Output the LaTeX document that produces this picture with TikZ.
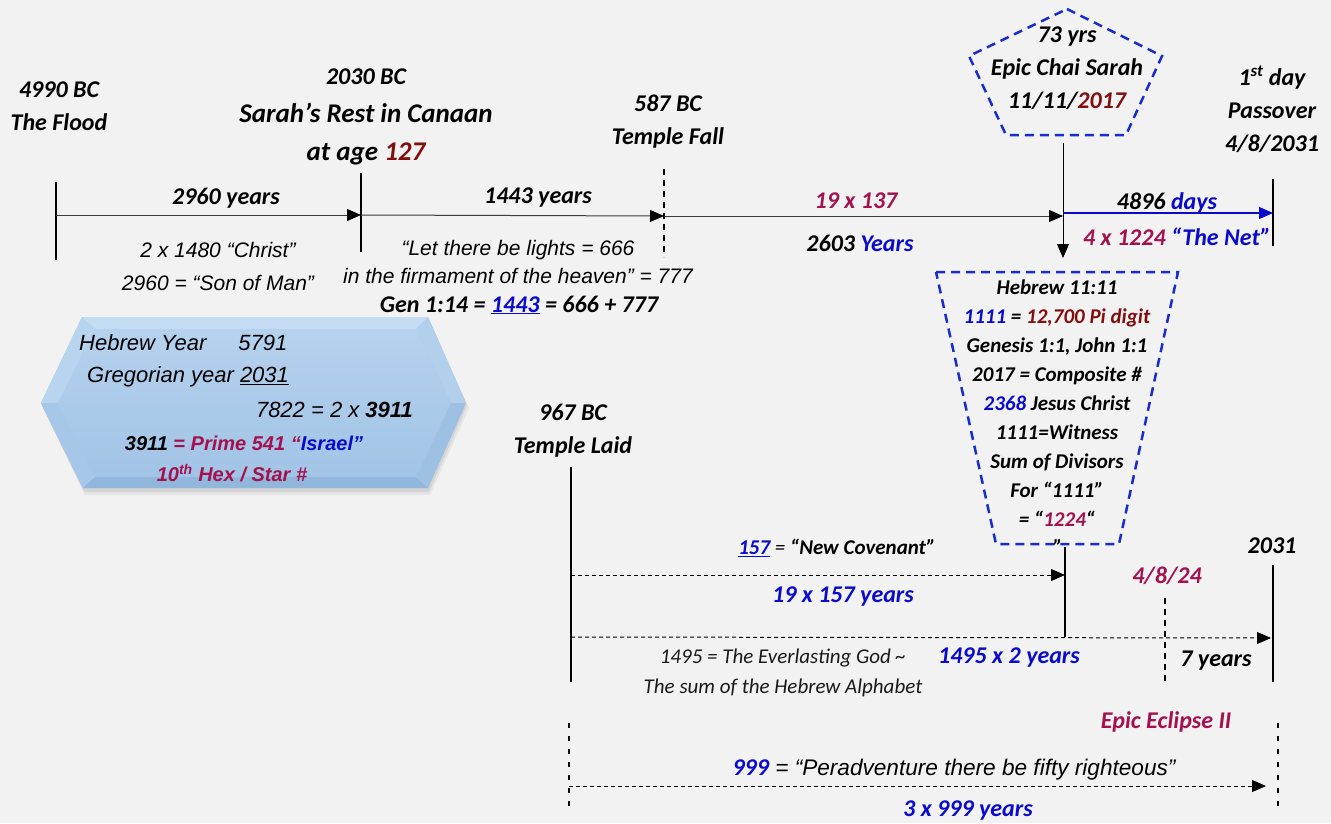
\documentclass[tikz,border=0pt]{standalone}
\usepackage{fontspec}
\setmainfont{Carlito}
\newfontfamily\arialfont{Liberation Sans}
\usetikzlibrary{positioning,arrows.meta}
\definecolor{paper}{RGB}{242,242,242}
\definecolor{darkred}{RGB}{130,14,14}
\definecolor{crimson}{RGB}{163,18,79}
\definecolor{ink}{RGB}{10,10,204}
\definecolor{frame}{RGB}{25,45,205}
\definecolor{rule}{RGB}{60,60,60}
\definecolor{hexface}{RGB}{166,199,232}
\definecolor{hexlight}{RGB}{196,220,243}
\definecolor{hexdark}{RGB}{146,183,220}
\tikzset{
    lbl/.style={inner sep=0pt, align=center, font=\fontsize{24}{33}\selectfont\bfseries\itshape},
    biglbl/.style={inner sep=0pt, align=center, font=\fontsize{27}{38}\selectfont\bfseries\itshape},
    arialtxt/.style={inner sep=0pt, align=center, font=\arialfont\fontsize{21}{28}\selectfont\itshape},
    boxtxt/.style={inner sep=0pt, align=center, font=\fontsize{21}{29}\selectfont\bfseries\itshape},
    lighttxt/.style={inner sep=0pt, align=center, font=\fontsize{21}{30}\selectfont\itshape},
    tickline/.style={line width=2pt},
    tickdash/.style={line width=1.5pt, dash pattern=on 6pt off 5pt},
    arr/.style={line width=1pt, draw=rule, -{Triangle[length=14pt,width=12pt,color=black]}},
    darr/.style={arr, draw=black, dash pattern=on 4pt off 3pt},
    bluearr/.style={line width=1.3pt, draw=ink, -{Triangle[length=14pt,width=12pt]}},
    frameline/.style={draw=frame, line width=2.5pt, dash pattern=on 9pt off 6pt},
}
\begin{document}
\begin{tikzpicture}[x=1pt,y=-1pt]
    \path[use as bounding box, fill=paper] (0,0) rectangle (1331,823);

    \coordinate (flood) at (56,215);
    \coordinate (sarah) at (361,215);
    \coordinate (fall) at (664,216);
    \coordinate (chai) at (1063,216);
    \coordinate (chaiB) at (1063,213);
    \coordinate (pass) at (1273,213);
    \coordinate (penta) at (1063,143);
    \coordinate (trap) at (1063,258);

    \draw[tickline] (56,182) -- (56,260);
    \draw[tickline] (361,173) -- (361,252);
    \draw[tickdash] (664,169) -- (664,257);
    \draw[tickline] (1273,179) -- (1273,246);
    \draw[arr] (flood) -- (sarah);
    \draw[arr] (sarah) -- (fall);
    \draw[arr] (fall) -- (chai);
    \draw[bluearr] (chaiB) -- (pass);
    \draw[arr, draw=black] (penta) -- (trap);

    \draw[frameline] (1067,9) -- (1162,56) -- (1126,135) -- (1006,135) -- (969,56) -- cycle;
    \draw[frameline] (936,272) -- (1178,272) -- (1119,544) -- (996,544) -- cycle;

    \node[lbl] (floodtxt) at (59,106) {4990 BC\\The Flood};
    \node[biglbl] (sarahtxt) at (366,117) {{\fontsize{24}{29}\selectfont 2030 BC}\\Sarah’s Rest in Canaan\\at age {\color{darkred}127}};
    \node[lbl] (falltxt) at (668,122) {587 BC\\Temple Fall};
    \node[lbl] (chaitxt) at (1067,68) {73 yrs\\Epic Chai Sarah\\11/11/{\color{darkred}2017}};
    \node[lbl] (passtxt) at (1272,109) {1\textsuperscript{st} day\\Passover\\4/8/2031};

    \node[lbl] (y2960) at (226,198) {2960 years};
    \node[arialtxt, font=\arialfont\fontsize{21}{33}\selectfont\itshape] (christ) at (218,266) {2 x 1480 “Christ”\\2960 = “Son of Man”};
    \node[lbl] (y1443) at (538,198) {1443 years};
    \node[arialtxt] (lights) at (518,262) {“Let there be lights = 666\\in the firmament of the heaven” = 777};
    \node[lbl] (gen) at (519,305) {Gen 1:14 = {\color{ink}\underline{1443}} = 666 + 777};
    \node[lbl, text=crimson] (r137) at (856,201) {19 x 137};
    \node[lbl] (y2603) at (860,243) {2603 {\color{ink}Years}};
    \node[lbl] (days) at (1167,203) {4896 {\color{ink}days}};
    \node[lbl] (net) at (1177,237) {{\color{crimson}4 x 1224} {\color{ink}“The Net”}};

    \node[boxtxt] (heb) at (1057,403) {Hebrew 11:11\\{\color{ink}1111} = {\color{darkred}12,700 Pi digit}\\Genesis 1:1, John 1:1\\2017 = Composite \#\\{\color{ink}2368} Jesus Christ\\1111=Witness\\Sum of Divisors\\For “1111”\\= “{\color{crimson}1224}“};
    \node[boxtxt] (stray) at (1058,547) {”};

    \fill[black, opacity=0.05] (43,408) -- (84,322) -- (430,322) -- (469,408) -- (430,495) -- (85,495) -- cycle;
    \fill[black, opacity=0.07] (42,406) -- (83,320) -- (429,320) -- (467,406) -- (429,492) -- (84,492) -- cycle;
    \fill[hexface] (41,403) -- (82,317) -- (428,317) -- (466,403) -- (428,488) -- (83,488) -- cycle;
    \fill[hexlight] (82,317) -- (428,317) -- (416,329) -- (95,329) -- cycle;
    \fill[hexlight!60!hexface] (41,403) -- (82,317) -- (95,329) -- (58,403) -- cycle;
    \fill[hexface] (41,403) -- (58,403) -- (95,477) -- (83,488) -- cycle;
    \fill[hexdark] (83,488) -- (95,477) -- (416,477) -- (428,488) -- cycle;
    \fill[hexlight!40!hexface] (428,317) -- (466,403) -- (451,403) -- (416,329) -- cycle;
    \fill[hexface!60!hexdark] (466,403) -- (428,488) -- (416,477) -- (451,403) -- cycle;
    \shade[top color=hexlight!50!hexface, bottom color=hexface!80!hexdark] (58,403) -- (95,329) -- (416,329) -- (451,403) -- (416,477) -- (95,477) -- cycle;

    \node[arialtxt, font=\arialfont\fontsize{22}{28}\selectfont\itshape, anchor=west] (hyear) at (79,343) {Hebrew Year\hspace{32pt}5791};
    \node[arialtxt, font=\arialfont\fontsize{22}{28}\selectfont\itshape, anchor=west] (gyear) at (87,377) {Gregorian year \underline{2031}};
    \node[arialtxt, font=\arialfont\fontsize{22}{28}\selectfont\itshape, anchor=east] (y7822) at (413,410) {7822 = 2 x \textbf{3911}};
    \node[arialtxt, font=\arialfont\fontsize{20}{25}\selectfont\bfseries\itshape] (isr) at (244,443) {3911 {\color{crimson}= Prime 541 “}{\color{ink}Israel”}};
    \node[arialtxt, font=\arialfont\fontsize{20}{25}\selectfont\bfseries\itshape, text=crimson] (hex10) at (232,473) {10\textsuperscript{th} Hex / Star \#};

    \node[lbl] (laidtxt) at (573,431) {967 BC\\Temple Laid};
    \coordinate (laidA) at (571,575);
    \coordinate (laidB) at (571,637);
    \coordinate (laidC) at (569,786);
    \coordinate (cov) at (1065,575);
    \coordinate (end2031) at (1271,638);
    \coordinate (endC) at (1266,786);

    \draw[tickline] (571,467) -- (571,682);
    \draw[tickline] (1065,547) -- (1065,637);
    \draw[tickline] (1273,565) -- (1273,682);
    \draw[tickdash] (1165,598) -- (1165,685);
    \draw[tickdash, line width=1.3pt, dash pattern=on 5pt off 8pt] (569,723) -- (569,808);
    \draw[tickdash, line width=1.3pt, dash pattern=on 5pt off 8pt] (1278,723) -- (1278,808);
    \draw[darr] (laidA) -- (cov);
    \draw[darr] (laidB) -- (end2031);
    \draw[darr] (laidC) -- (endC);

    \node[lbl, font=\fontsize{21}{29}\selectfont\bfseries\itshape] (newcov) at (837,548) {{\color{ink}\underline{157}}{\mdseries\ = }“New Covenant”};
    \node[lbl, text=ink] (x19) at (843,597) {19 x 157 years};
    \node[lbl] (t2031) at (1272,546) {2031};
    \node[lbl, text=crimson] (d424) at (1167,576) {4/8/24};
    \node[lighttxt, text=black!90] (ever) at (783,673) {1495 = The Everlasting God \textasciitilde\\The sum of the Hebrew Alphabet};
    \node[lbl, text=ink] (x1495) at (1009,658) {1495 x 2 years};
    \node[lbl] (y7) at (1216,661) {7 years};
    \node[lbl, text=crimson] (eclipse) at (1166,722) {Epic Eclipse II};
    \node[arialtxt, font=\arialfont\fontsize{22.6}{28}\selectfont\itshape] (fifty) at (954,770) {{\fontspec{Carlito}\fontsize{24}{28}\selectfont\bfseries\color{ink}999} = “Peradventure there be fifty righteous”};
    \node[lbl, text=ink] (x999) at (968,811) {3 x 999 years};
\end{tikzpicture}
\end{document}
